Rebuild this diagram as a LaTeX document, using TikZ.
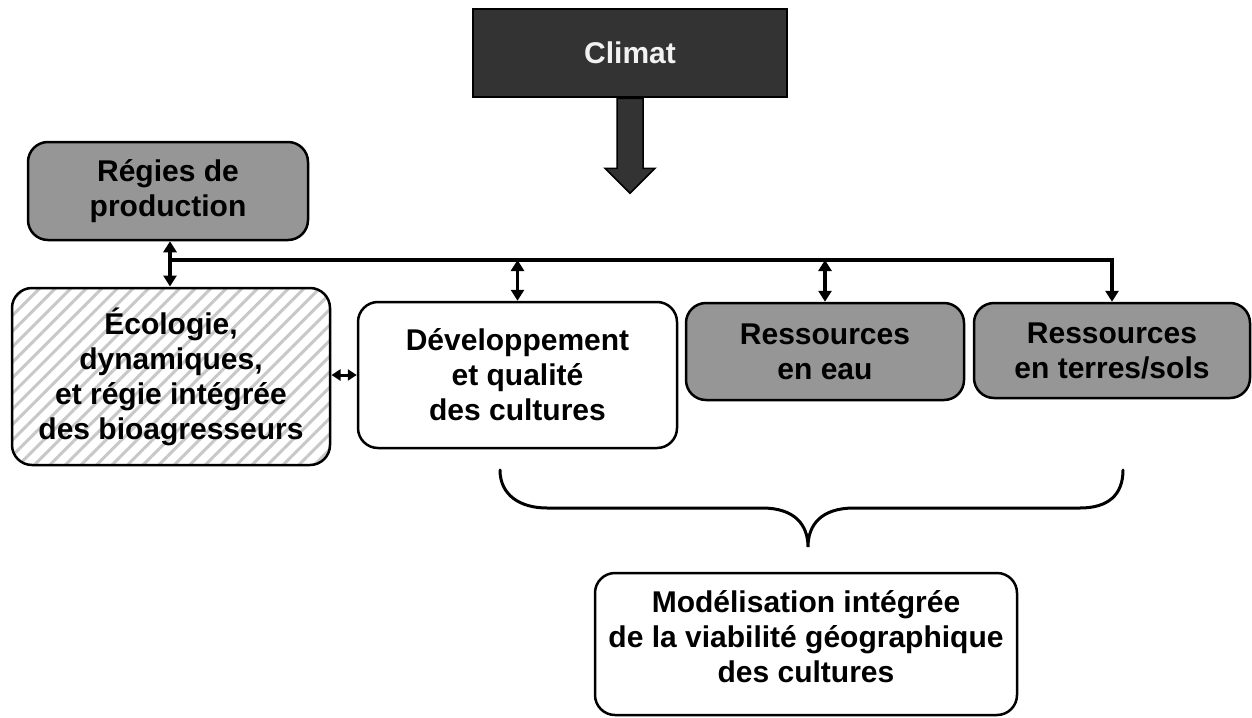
\documentclass[tikz,border=0pt]{standalone}
\usepackage{fontspec}
\setmainfont{Liberation Sans}
\usetikzlibrary{arrows.meta,patterns.meta}
\definecolor{darkfill}{RGB}{51,51,51}
\definecolor{grayfill}{RGB}{150,150,150}
\definecolor{hatchgray}{RGB}{200,200,200}
\definecolor{climtext}{RGB}{242,242,242}
\begin{document}
\begin{tikzpicture}[x=1pt,y=-1pt,
  txt/.style={font=\bfseries\fontsize{30}{35}\selectfont,align=center},
  box/.style={draw=black,line width=2.5pt,rounded corners=20pt,inner sep=0pt,txt},
  graybox/.style={box,fill=grayfill},
  whitebox/.style={box,fill=white},
  hatchbox/.style={box,preaction={fill=white},pattern={Lines[angle=45,distance=11pt,line width=3pt]},pattern color=hatchgray},
  dbl/.style={line width=3.5pt,{Triangle[width=13pt,length=11pt]}-{Triangle[width=13pt,length=11pt]}},
  sdbl/.style={line width=3pt,{Triangle[width=11pt,length=9pt]}-{Triangle[width=11pt,length=9pt]}},
  bus/.style={line width=3.5pt,-{Triangle[width=13pt,length=11pt]}},
  brace/.style={line width=3pt,line cap=round},
]
\useasboundingbox (0,0) rectangle (1252,717);

% Climat
\node[draw=black,line width=2.5pt,fill=darkfill,minimum width=314pt,minimum height=88pt,inner sep=0pt,txt,text=climtext] (clim) at (630,53) {Climat};
\draw[fill=darkfill,draw=black,line width=1.5pt]
  ([xshift=-13pt]clim.south) -- ([xshift=13pt]clim.south) -- ([xshift=13pt,yshift=-70pt]clim.south)
  -- ([xshift=25pt,yshift=-70pt]clim.south) -- ([yshift=-95pt]clim.south)
  -- ([xshift=-25pt,yshift=-70pt]clim.south) -- ([xshift=-13pt,yshift=-70pt]clim.south) -- cycle;

% Boxes
\node[graybox,minimum width=280pt,minimum height=98pt] (reg) at (168,191) {Régies de\\production};
\node[hatchbox,minimum width=318pt,minimum height=177pt] (eco) at (171,376.5) {Écologie,\\dynamiques,\\et régie intégrée\\des bioagresseurs};
\node[whitebox,minimum width=319pt,minimum height=146pt] (dev) at (517.5,375) {Développement\\et qualité\\des cultures};
\node[graybox,minimum width=278pt,minimum height=97pt] (eau) at (825,351.5) {Ressources\\en eau};
\node[graybox,minimum width=276pt,minimum height=95pt] (ter) at (1112,350.5) {Ressources\\en terres/sols};
\node[whitebox,minimum width=422pt,minimum height=142pt] (mod) at (806,644) {};
\node[txt] (modt) at (806,637) {Modélisation intégrée\\de la viabilité géographique\\des cultures};

% Bus and arrows
\coordinate (b1) at (170,260);
\draw[bus] (b1) -- (b1 -| ter.north) -- (ter.north);
\draw[dbl] (reg.south -| b1) -- (eco.north -| b1);
\draw[dbl] (dev.north |- b1) -- (dev.north);
\draw[dbl] (eau.north |- b1) -- (eau.north);
\draw[sdbl] (eco.east |- dev.west) -- (dev.west);

% Brace
\draw[brace] (500,470) .. controls (500,495) and (520,508) .. (547,508) -- (762,508)
  .. controls (795,508) and (808,525) .. (808,547)
  .. controls (808,525) and (821,508) .. (854,508) -- (1080,508)
  .. controls (1108,508) and (1123,495) .. (1123,470);
\end{tikzpicture}
\end{document}
